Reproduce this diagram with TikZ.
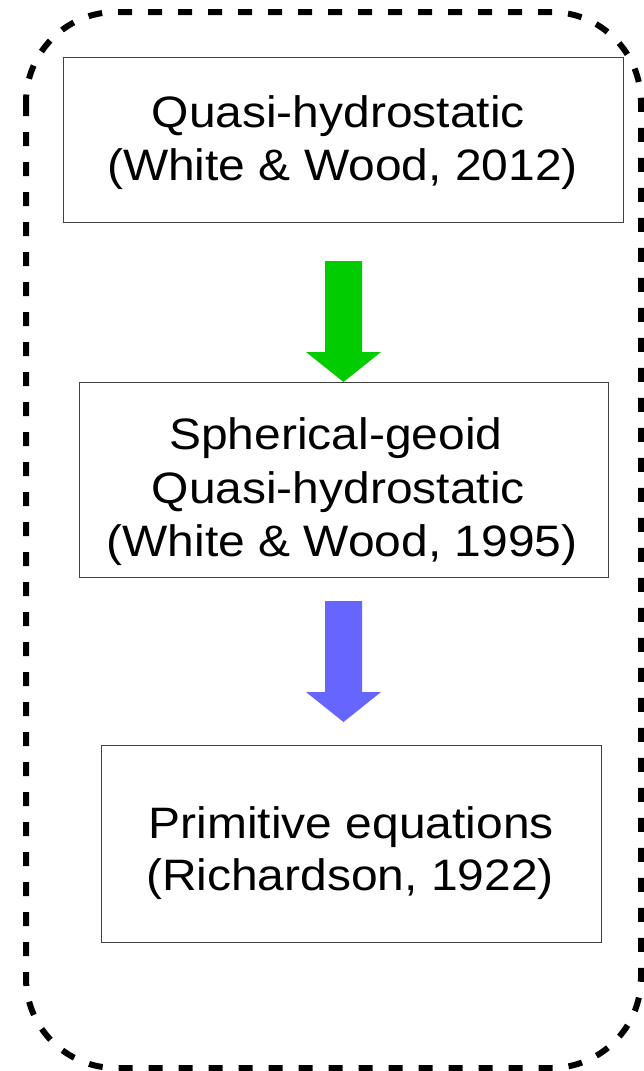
\documentclass[tikz,border=0pt]{standalone}
\usepackage{fontspec}
\setmainfont{Liberation Sans}[FakeStretch=1.09]
\begin{document}
\begin{tikzpicture}[x=1pt,y=-1pt,
  modelbox/.style={draw=black!75,line width=1pt,fill=white},
  boxtext/.style={anchor=base,font=\fontsize{44}{52}\selectfont,inner sep=0pt},
  frame/.style={draw=black,line width=6pt,dash pattern=on 14pt off 16pt,rounded corners=90pt}]
\useasboundingbox (0,0) rectangle (644,1071);
\clip (0,0) rectangle (644,1071);
\fill[white] (0,0) rectangle (644,1071);
\draw[frame] (26,12) rectangle (641,1068);
% boxes
\draw[modelbox] (63,57) rectangle (623,222);
\node[boxtext] (b1a) at (338.3,127.7) {Quasi-hydrostatic};
\node[boxtext] (b1b) at (342.5,180.5) {(White \& Wood, 2012)};
\draw[modelbox] (79,382) rectangle (608,577);
\node[boxtext] (b2a) at (335.8,449.3) {Spherical-geoid};
\node[boxtext] (b2b) at (338.3,503) {Quasi-hydrostatic};
\node[boxtext] (b2c) at (342,556.5) {(White \& Wood, 1995)};
\draw[modelbox] (101,745) rectangle (601,942);
\node[boxtext] (b3a) at (351.2,838.3) {Primitive equations};
\node[boxtext] (b3b) at (350,890.5) {(Richardson, 1922)};
% block arrows
\fill[fill={rgb,255:red,0;green,204;blue,0}] (325,261) -- (362,261) -- (362,352) -- (381,352) -- (343.5,382) -- (306,352) -- (325,352) -- cycle;
\fill[fill={rgb,255:red,102;green,102;blue,255}] (325,601) -- (362,601) -- (362,692) -- (381,692) -- (343.5,722) -- (306,692) -- (325,692) -- cycle;
\end{tikzpicture}
\end{document}
